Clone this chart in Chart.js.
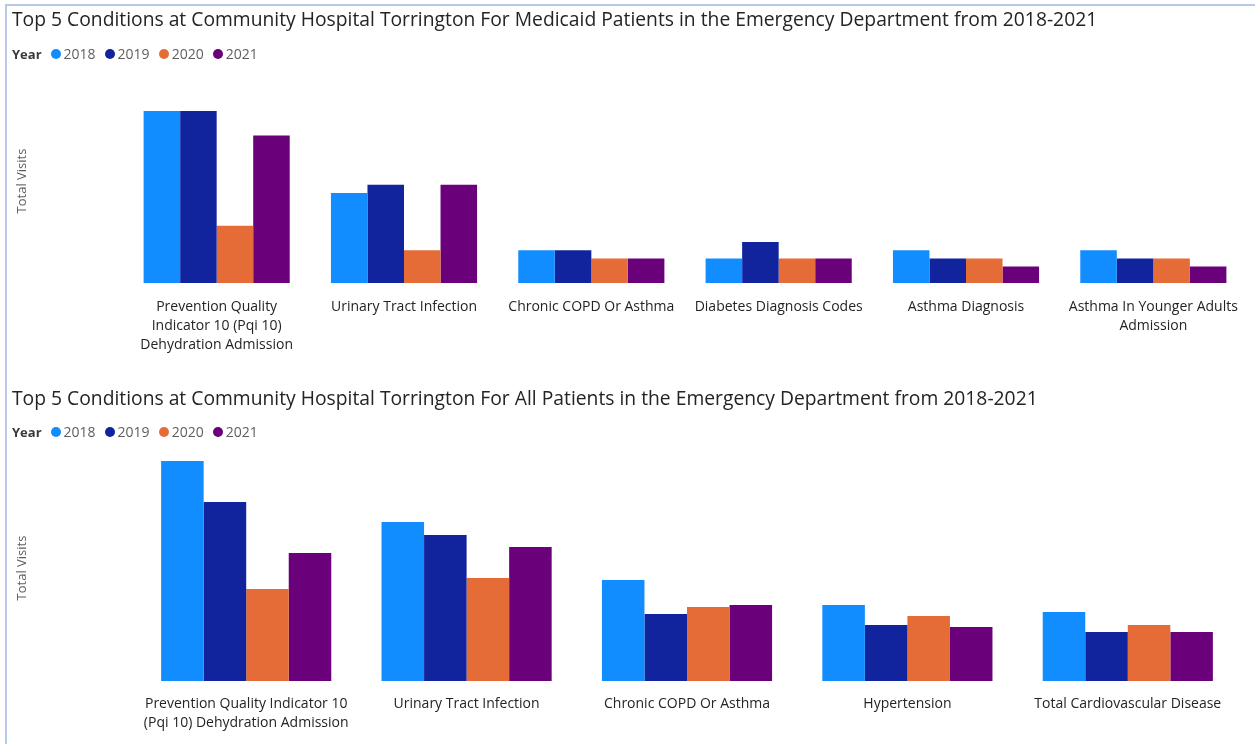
<!DOCTYPE html>
<html>
<head>
<meta charset="utf-8">
<script src="https://cdn.jsdelivr.net/npm/chart.js@4"></script>
<style>
  html,body{margin:0;padding:0;background:#fff;}
  body{width:1255px;height:744px;position:relative;overflow:hidden;font-family:"Open Sans",sans-serif;}
  .frame{position:absolute;left:5px;top:4px;width:1260px;height:760px;border-left:2px solid #b8c9e8;border-top:2px solid #b8c9e8;}
  .title{position:absolute;left:12px;font-size:19.3px;color:#252423;white-space:nowrap;z-index:2;}
  .legend{position:absolute;left:12px;font-size:14px;color:#605e5c;white-space:nowrap;z-index:2;display:flex;align-items:center;}
  .legend b{color:#3b3a39;margin-right:9px;font-weight:700;font-size:13px;}
  .legend .it{display:flex;align-items:center;margin-right:9px;}
  .legend .dot{width:10px;height:10px;border-radius:50%;display:inline-block;margin-right:3px;}
  .ytitle{position:absolute;font-size:13px;color:#605e5c;white-space:nowrap;z-index:2;transform:translate(-50%,-50%) rotate(-90deg);}
  canvas{position:absolute;left:0;}
</style>
</head>
<body>
<div class="frame"></div>
<div class="title" id="t1" style="top:5px;"></div>
<div class="legend" id="l1" style="top:44px;"></div>
<div class="title" id="t2" style="top:384px;"></div>
<div class="legend" id="l2" style="top:422px;"></div>
<div class="ytitle" id="y1" style="left:21px;top:181px;"></div>
<div class="ytitle" id="y2" style="left:21px;top:568px;"></div>
<canvas id="c1" width="1255" height="372" style="top:0;width:1255px;height:372px;"></canvas>
<canvas id="c2" width="1255" height="372" style="top:372px;width:1255px;height:372px;"></canvas>
<script>
const years = ["2018","2019","2020","2021"];
const colors = ["#118DFF","#12239E","#E66C37","#6B007B"];

const title1 = "Top 5 Conditions at Community Hospital Torrington For Medicaid Patients in the Emergency Department from 2018-2021";
const cats1 = [
  ["Prevention Quality","Indicator 10 (Pqi 10)","Dehydration Admission"],
  "Urinary Tract Infection",
  "Chronic COPD Or Asthma",
  "Diabetes Diagnosis Codes",
  "Asthma Diagnosis",
  ["Asthma In Younger Adults","Admission"]
];
const v1_2018 = [21, 11, 4, 3, 4, 4];
const v1_2019 = [21, 12, 4, 5, 3, 3];
const v1_2020 = [7, 4, 3, 3, 3, 3];
const v1_2021 = [18, 12, 3, 3, 2, 2];

const title2 = "Top 5 Conditions at Community Hospital Torrington For All Patients in the Emergency Department from 2018-2021";
const cats2 = [
  ["Prevention Quality Indicator 10","(Pqi 10) Dehydration Admission"],
  "Urinary Tract Infection",
  "Chronic COPD Or Asthma",
  "Hypertension",
  "Total Cardiovascular Disease"
];
const v2_2018 = [220, 159, 101, 76, 69];
const v2_2019 = [179, 146, 67, 56, 49];
const v2_2020 = [92, 103, 74, 65, 56];
const v2_2021 = [128, 134, 76, 54, 49];

const yTitle = "Total Visits";
const legendTitle = "Year";

document.getElementById('t1').textContent = title1;
document.getElementById('t2').textContent = title2;
document.getElementById('y1').textContent = yTitle;
document.getElementById('y2').textContent = yTitle;
function buildLegend(id){
  const el = document.getElementById(id);
  const b = document.createElement('b'); b.textContent = legendTitle; el.appendChild(b);
  years.forEach((y,i)=>{
    const it = document.createElement('span'); it.className='it';
    const d = document.createElement('span'); d.className='dot'; d.style.background=colors[i];
    const t = document.createElement('span'); t.textContent = y;
    it.appendChild(d); it.appendChild(t); el.appendChild(it);
  });
}
buildLegend('l1'); buildLegend('l2');

function makeChart(id, cats, series, yMax, padTop, xH, yW, padRight, catPct, tickPad){
  const ds = series.map((s,i)=>({label:years[i], data:s, backgroundColor:colors[i], borderWidth:0,
    categoryPercentage:catPct, barPercentage:1.0}));
  return new Chart(document.getElementById(id), {
    type:'bar',
    data:{labels:cats, datasets:ds},
    options:{
      responsive:false, animation:false,
      layout:{padding:{top:padTop,left:6,right:padRight,bottom:0}},
      plugins:{legend:{display:false}, title:{display:false}, tooltip:{enabled:false}},
      scales:{
        x:{grid:{display:false,drawTicks:false}, border:{display:false},
           ticks:{color:"#252423", font:{family:"Open Sans", size:14, lineHeight:1.36}, padding:tickPad, maxRotation:0, autoSkip:false},
           afterFit:(s)=>{s.height = xH;}},
        y:{min:0, max:yMax, grid:{display:false}, border:{display:false},
           ticks:{display:false},
           title:{display:false},
           afterFit:(s)=>{s.width = yW;}}
      }
    }
  });
}
makeChart('c1', cats1, [v1_2018,v1_2019,v1_2020,v1_2021], 21, 111, 89, 117, 8, 0.78, 14);
makeChart('c2', cats2, [v2_2018,v2_2019,v2_2020,v2_2021], 220, 89, 63, 130, 17, 0.772, 13);
</script>
</body>
</html>
